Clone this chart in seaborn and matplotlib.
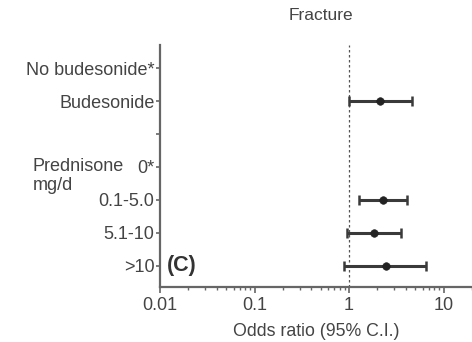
import matplotlib
matplotlib.use("Agg")
import matplotlib.pyplot as plt
import seaborn as sns
import numpy as np
import pandas as pd
from matplotlib.ticker import LogLocator, FixedLocator, FuncFormatter

sns.set_theme(style="ticks")
plt.rcParams['font.family'] = ['Liberation Sans', 'DejaVu Sans']

# ---- data ----
tick_labels = ["No budesonide*", "Budesonide", "", "0*", "0.1-5.0", "5.1-10", ">10"]
groups = ["Budesonide", "0.1-5.0", "5.1-10", ">10"]
odds = [2.13, 2.31, 1.84, 2.46]
ci_low = [1.00, 1.28, 0.95, 0.89]
ci_high = [4.6, 4.14, 3.52, 6.6]
x_ticks = [0.01, 0.1, 1, 10]

pos = {lab: i for i, lab in enumerate(tick_labels) if lab}
df = pd.DataFrame({"group": groups, "odds": odds, "lo": ci_low, "hi": ci_high})
df["y"] = [pos[g] for g in groups]

fig = plt.figure(figsize=(4.72, 3.42), dpi=100)
ax = fig.add_axes([160/472, 1-287/342, (472-160)/472, (287-45)/342])

col = "#3a3a3a"
ax.errorbar(df["odds"], df["y"], xerr=[df["odds"]-df["lo"], df["hi"]-df["odds"]],
            fmt="none", ecolor=col, elinewidth=2.2, capsize=3.5, capthick=1.8, zorder=2)
sns.scatterplot(data=df, x="odds", y="y", ax=ax, color="#222222", s=30,
                marker="o", edgecolor="#222222", zorder=3, legend=False)
ax.axvline(1, color="#555555", lw=0.9, ls=(0, (2, 2)), zorder=1)

ax.set_xscale("log")
ax.set_xlim(0.01, 20)
ax.set_ylim(6.64, -0.7)
ax.yaxis.set_major_locator(FixedLocator(range(len(tick_labels))))
ax.set_yticklabels(tick_labels)
ax.xaxis.set_major_locator(FixedLocator(x_ticks))
ax.xaxis.set_major_formatter(FuncFormatter(lambda v, p: f"{v:g}"))
ax.xaxis.set_minor_locator(LogLocator(base=10, subs=np.arange(2, 10), numticks=20))

for s in ["top", "right"]:
    ax.spines[s].set_visible(False)
for s in ["left", "bottom"]:
    ax.spines[s].set_color("#666666")
    ax.spines[s].set_linewidth(1.6)
ax.tick_params(axis="both", colors="#666666", labelcolor="#444444", labelsize=13, width=1.2)
ax.tick_params(axis="y", length=3, pad=1)
ax.tick_params(axis="x", which="major", length=4, pad=3)
ax.tick_params(axis="x", which="minor", length=2.5, width=1.0, colors="#666666")

ax.set_xlabel("Odds ratio (95% C.I.)", fontsize=12.8, color="#444444", labelpad=7)
ax.set_ylabel("")

fig.text(321/472, 1-15/342, "Fracture", fontsize=12.5, color="#444444",
         va="center", ha="center")
fig.text(33/472, 1-176/342, "Prednisone\nmg/d", fontsize=13, color="#444444",
         va="center", ha="left", linespacing=1.15)
ax.text(0.0118, 6, "(C)", fontsize=15.5, fontweight="bold", color="#333333",
        va="center", ha="left")

fig.savefig("out.png", dpi=100)
